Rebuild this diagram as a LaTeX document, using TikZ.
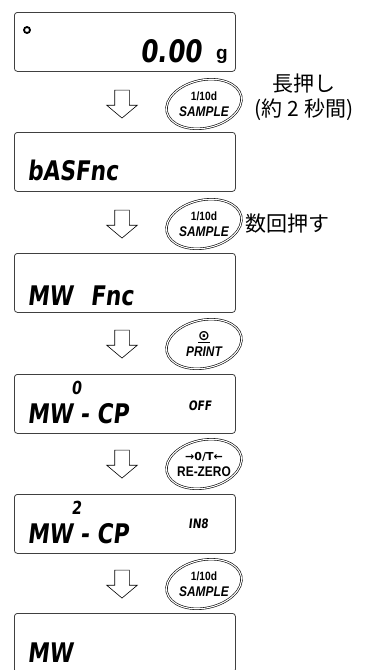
\documentclass[tikz,border=0pt]{standalone}
\usepackage{fontspec}
\setmainfont{Liberation Sans}
\newfontfamily\jpfont{Noto Sans CJK JP}
\newfontfamily\lcdfont[FakeSlant=0.12,FakeStretch=0.8]{DejaVu Sans}
\newfontfamily\keyfont[FakeStretch=0.85]{Liberation Sans}
\newfontfamily\symfont{DejaVu Sans}
\usetikzlibrary{positioning,shapes.geometric,shapes.arrows}

\begin{document}
\begin{tikzpicture}[x=1pt,y=-1pt,line width=0.8pt,
  lcd/.style={draw=black!75,rounded corners=3pt,minimum width=221pt,minimum height=59pt,anchor=north west,inner sep=0},
  seg/.style={inner sep=0,anchor=base west,font=\lcdfont\bfseries\fontsize{27}{27}\selectfont},
  segsmall/.style={inner sep=0,anchor=base west,font=\lcdfont\bfseries\fontsize{13}{13}\selectfont},
  hollow/.style={single arrow,draw,shape border rotate=270,minimum height=28pt,minimum width=30pt,inner sep=7pt,single arrow head extend=8pt,single arrow tip angle=100,line width=0.6pt},
  keybtn/.style={inner sep=0,align=center,font=\keyfont\bfseries\fontsize{14}{16}\selectfont},
  keyring/.style={draw,double,double distance=1.1pt,line width=0.6pt},
  jplbl/.style={inner sep=0,align=center,font=\jpfont\fontsize{21}{25}\selectfont}]
        \useasboundingbox (0,0) rectangle (365,670);
        % displays
        \node[lcd] (d1) at (14,12) {};
        \node[lcd] (d2) at (14,132) {};
        \node[lcd] (d3) at (14,253) {};
        \node[lcd] (d4) at (14,374) {};
        \node[lcd] (d5) at (14,494) {};
        \node[lcd] (d6) at (14,613) {};
        \node[circle,draw,line width=1.8pt,inner sep=0,minimum size=6pt] (stab) at (27,30) {};
        \node[seg,anchor=base east,font=\lcdfont\bfseries\fontsize{31}{31}\selectfont] (w1) at (202,62) {0.00};
        \node[inner sep=0,anchor=base,font=\bfseries\fontsize{19}{19}\selectfont] (unit) at (222,59) {g};
        \node[seg] (t2) at (27,180) {bASFnc};
        \node[seg] (t3a) at (27,305) {MW};
        \node[seg] (t3b) at (90,305) {Fnc};
        \node[seg,font=\lcdfont\bfseries\fontsize{18}{18}\selectfont] (n4) at (71,394) {0};
        \node[seg] (t4) at (27,423) {MW - CP};
        \node[segsmall] (v4) at (188,410) {OFF};
        \node[seg,font=\lcdfont\bfseries\fontsize{18}{18}\selectfont] (n5) at (71,514) {2};
        \node[seg] (t5) at (27,543) {MW - CP};
        \node[segsmall] (v5) at (188,528) {IN8};
        \node[seg] (t6) at (27,662) {MW};
        % arrows
        \foreach \i/\y in {1/101,2/221,3/341,4/461,5/581}
            \node[hollow] (arr\i) at (122,\y) {};
        % keys
        \node[keybtn] (k1) at (204,104) {{\fontsize{12}{12}\selectfont 1/10d}\\\itshape SAMPLE};
        \node[keybtn] (k2) at (204,224) {{\fontsize{12}{12}\selectfont 1/10d}\\\itshape SAMPLE};
        \node[keybtn] (k3) at (204,344) {{\symfont\underline{⊙}}\\\itshape PRINT};
        \node[keybtn] (k4) at (204,464) {{\symfont\bfseries\fontsize{11}{11}\selectfont →0/T←}\\RE-ZERO};
        \node[keybtn] (k5) at (204,584) {{\fontsize{12}{12}\selectfont 1/10d}\\\itshape SAMPLE};
        \foreach \k in {k1,k2,k3,k4,k5}
            \draw[keyring,rotate around={12:(\k.center)}] (\k.center) ellipse [x radius=38,y radius=24];
        % labels
        \node[jplbl] (hold) at (304,97) {長押し\\(約 2 秒間)};
        \node[jplbl,right=16pt of k2] (times) {数回押す};
    \end{tikzpicture}
\end{document}
